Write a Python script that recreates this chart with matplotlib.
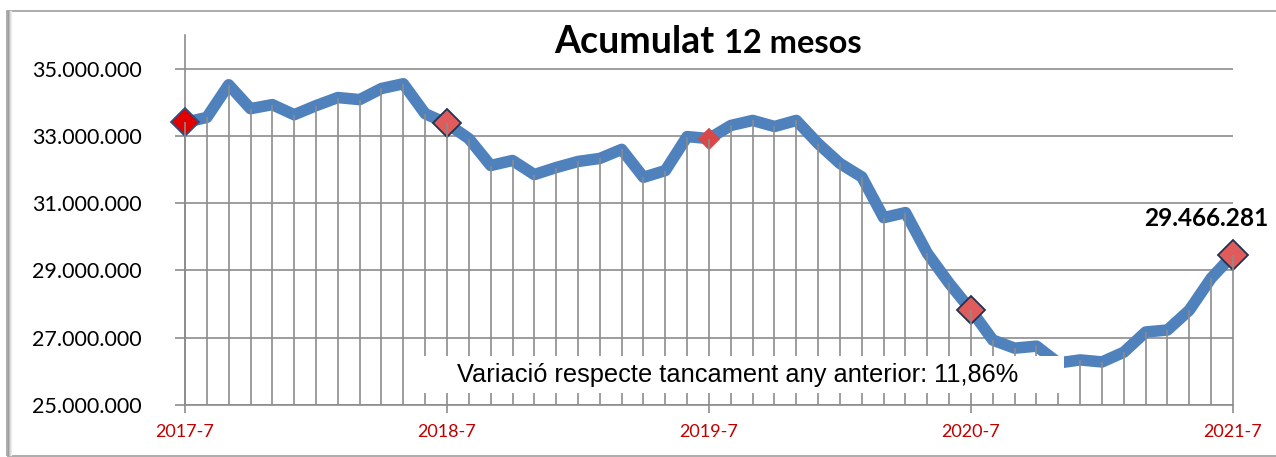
import matplotlib.pyplot as plt
from matplotlib.patches import Rectangle
from matplotlib.ticker import FuncFormatter
from matplotlib.lines import Line2D

# monthly 12-month rolling total, 2017-7 .. 2021-7
valors = [33.40, 33.55, 34.52, 33.81, 33.93, 33.63, 33.90, 34.14, 34.08, 34.41,
          34.55, 33.66, 33.37, 32.92, 32.12, 32.27, 31.85, 32.06, 32.24, 32.33,
          32.60, 31.77, 31.97, 32.98, 32.92, 33.31, 33.46, 33.28, 33.46, 32.77,
          32.18, 31.78, 30.57, 30.72, 29.51, 28.62, 27.82, 26.93, 26.69, 26.75,
          26.25, 26.34, 26.28, 26.57, 27.17, 27.23, 27.82, 28.77, 29.466281]
valors = [v * 1e6 for v in valors]
mesos = list(range(len(valors)))
etiquetes_x = ["2017-7", "2018-7", "2019-7", "2020-7", "2021-7"]
pos_juliol = [0, 12, 24, 36, 48]
yticks = [25e6, 27e6, 29e6, 31e6, 33e6, 35e6]
ultim = "29.466.281"
nota = "Variació respecte tancament any anterior: 11,86%"

W, H = 1276, 457
fig = plt.figure(figsize=(W / 100, H / 100), dpi=100)

def px(x0, y0, x1, y1):
    return [x0 / W, 1 - y1 / H, (x1 - x0) / W, (y1 - y0) / H]

# chart border + left shadow
fig.patches.append(Rectangle((7 / W, 1 - 456 / H), 1.2, 445 / H, transform=fig.transFigure,
                             fill=False, edgecolor="#A6A6A6", lw=1.3))
for i, c in enumerate(["#9A9A9A", "#BDBDBD", "#D9D9D9", "#EDEDED"]):
    fig.lines.append(Line2D([(8 + i) / W] * 2, [1 - 455 / H, 1 - 11 / H],
                            transform=fig.transFigure, color=c, lw=0.9))

ax = fig.add_axes(px(185, 35, 1233, 405))
ax.set_xlim(0, 48)
ax.set_ylim(25e6, 36e6)

ax.plot(mesos, valors, color="#4F81BD", lw=8.3, solid_joinstyle="round",
        solid_capstyle="round", zorder=3)

mx = [mesos[i] for i in pos_juliol]
my = [valors[i] for i in pos_juliol]
face = ["#E00000", "#E05C5C", "#D94848", "#E05C5C", "#E05C5C"]
edge = ["#2F4F7F", "#1F3350", "#D94848", "#1F3350", "#1F3350"]
sizes = [14.5, 14.5, 10, 14.5, 15.5]
for x, y, f, e, s in zip(mx, my, face, edge, sizes):
    ax.plot([x], [y], marker="D", ms=s, mfc=f, mec=e, mew=1.3, zorder=4, clip_on=False)

# drop lines
ax.vlines(mesos, 25e6, valors, color="#8C8C8C", lw=1.2, zorder=5, clip_on=False)

ax.set_yticks(yticks)
ax.yaxis.set_major_formatter(FuncFormatter(lambda v, p: f"{int(v):,}".replace(",", ".")))
ax.set_xticks(pos_juliol)
ax.set_xticklabels(etiquetes_x)
ax.grid(axis="y", color="#8C8C8C", lw=1.2, zorder=0)
ax.set_axisbelow(True)
for s in ["top", "right"]:
    ax.spines[s].set_visible(False)
for s in ["left", "bottom"]:
    ax.spines[s].set_color("#8C8C8C")
    ax.spines[s].set_linewidth(1.2)
ax.tick_params(axis="y", length=7, color="#8C8C8C", width=1.2, pad=24,
               labelsize=15.5, labelfontfamily="Lato")
ax.tick_params(axis="x", length=6, color="#8C8C8C", width=1.2, pad=8,
               labelsize=13, labelcolor="#C00000", labelfontfamily="Lato")

# title
fig.text(714 / W, 1 - 53 / H, "Acumulat", ha="right", va="baseline",
         fontsize=27, fontweight="bold", family="Lato")
fig.text(724 / W, 1 - 53 / H, "12 mesos", ha="left", va="baseline",
         fontsize=23.5, fontweight="bold", family="Lato")

# last value label
fig.text(1144 / W, 1 - 218 / H, ultim, ha="left", va="center",
         fontsize=17.6, fontweight="bold", family="Lato")

# note box
fig.patches.append(Rectangle((415 / W, 1 - 393 / H), 649 / W, 37 / H,
                             transform=fig.transFigure, facecolor="white",
                             edgecolor="none", zorder=10))
fig.text(738 / W, 1 - 375 / H, nota, ha="center", va="center", fontsize=18.3,
         family="Liberation Sans", zorder=11)

fig.savefig("out.png", dpi=100)
